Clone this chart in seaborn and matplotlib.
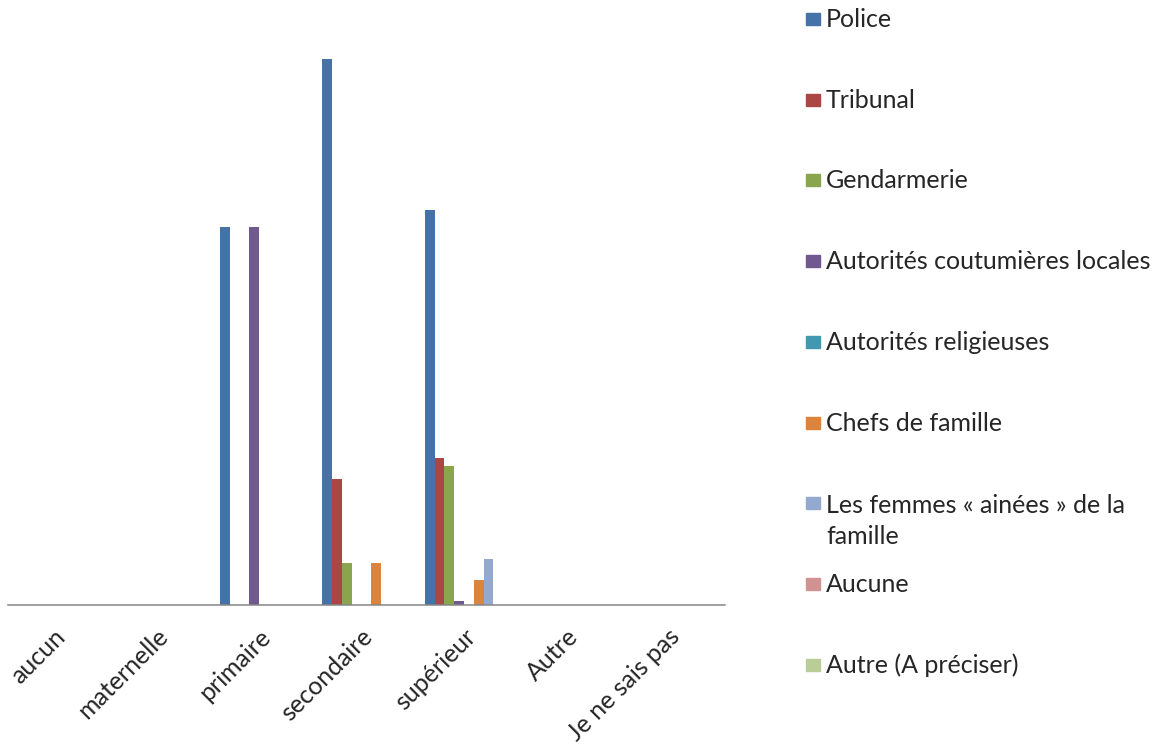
import numpy as np
import pandas as pd
import matplotlib
matplotlib.use("Agg")
import matplotlib.pyplot as plt
import matplotlib.transforms as mtransforms
from matplotlib.patches import Rectangle
import seaborn as sns

# niveaux d'instruction (axe x)
categories = ["aucun", "maternelle", "primaire", "secondaire", "supérieur", "Autre", "Je ne sais pas"]

# series (une par recours)
series_names = [
    "Police",
    "Tribunal",
    "Gendarmerie",
    "Autorités coutumières locales",
    "Autorités religieuses",
    "Chefs de famille",
    "Les femmes « ainées » de la\nfamille",
    "Aucune",
    "Autre (A préciser)",
]
police = [0, 0, 9.0, 13.0, 9.4, 0, 0]
tribunal = [0, 0, 0, 3.0, 3.5, 0, 0]
gendarmerie = [0, 0, 0, 1.0, 3.3, 0, 0]
coutumieres = [0, 0, 9.0, 0, 0.1, 0, 0]
religieuses = [0, 0, 0, 0, 0, 0, 0]
chefs_famille = [0, 0, 0, 1.0, 0.6, 0, 0]
femmes_ainees = [0, 0, 0, 0, 1.1, 0, 0]
aucune = [0, 0, 0, 0, 0, 0, 0]
autre_preciser = [0, 0, 0, 0, 0, 0, 0]

colors = ["#4572A7", "#AA4643", "#89A54E", "#71588F", "#4198AF",
          "#DB843D", "#93A9CF", "#D19392", "#B9CD96"]

all_values = [police, tribunal, gendarmerie, coutumieres, religieuses,
              chefs_famille, femmes_ainees, aucune, autre_preciser]

rows = []
for name, vals in zip(series_names, all_values):
    for cat, v in zip(categories, vals):
        rows.append({"niveau": cat, "recours": name, "valeur": v})
df = pd.DataFrame(rows)

sns.set_style("white")
plt.rcParams["font.family"] = ["Lato", "DejaVu Sans"]
FS = 18

W, H = 1155, 745
fig = plt.figure(figsize=(W / 100, H / 100), dpi=100)
ax = fig.add_axes([8 / W, 140 / H, 717 / W, 588 / H])

sns.barplot(data=df, x="niveau", y="valeur", hue="recours", order=categories,
            hue_order=series_names, palette=colors, saturation=1, width=0.86,
            linewidth=0, legend=False, ax=ax)

ax.set_xlim(-0.5, len(categories) - 0.5)
ax.set_ylim(0, 14)
ax.set_xlabel("")
ax.set_ylabel("")
ax.set_yticks([])
for s in ["top", "right", "left"]:
    ax.spines[s].set_visible(False)
ax.spines["bottom"].set_color("#868686")
ax.spines["bottom"].set_linewidth(1.1)

# ticks entre les categories
ax.set_xticks(np.arange(-0.5, len(categories)), minor=True)
ax.tick_params(axis="x", which="minor", length=6, width=1.1, color="#868686", direction="out")
ax.tick_params(axis="x", which="major", length=0, pad=0)
ax.set_xticks(range(len(categories)))
ax.set_xticklabels(categories, rotation=45, ha="right", va="baseline",
                   rotation_mode="anchor", fontsize=FS)
offset = mtransforms.ScaledTranslation(8 / 100, -33 / 100, fig.dpi_scale_trans)
for lab in ax.get_xticklabels():
    lab.set_transform(lab.get_transform() + offset)

# legende a droite
for i, (name, col) in enumerate(zip(series_names, colors)):
    yc = 19 + 80.7 * i
    extra = 33 * name.count("\n")
    fig.patches.append(Rectangle((806 / W, 1 - (yc + 6) / H), 14 / W, 12 / H,
                                 transform=fig.transFigure, color=col))
    fig.text(826 / W, 1 - (yc + 8 + extra) / H, name, fontsize=FS, va="baseline",
             ha="left", linespacing=1.45)

fig.savefig("out.png", dpi=100)
